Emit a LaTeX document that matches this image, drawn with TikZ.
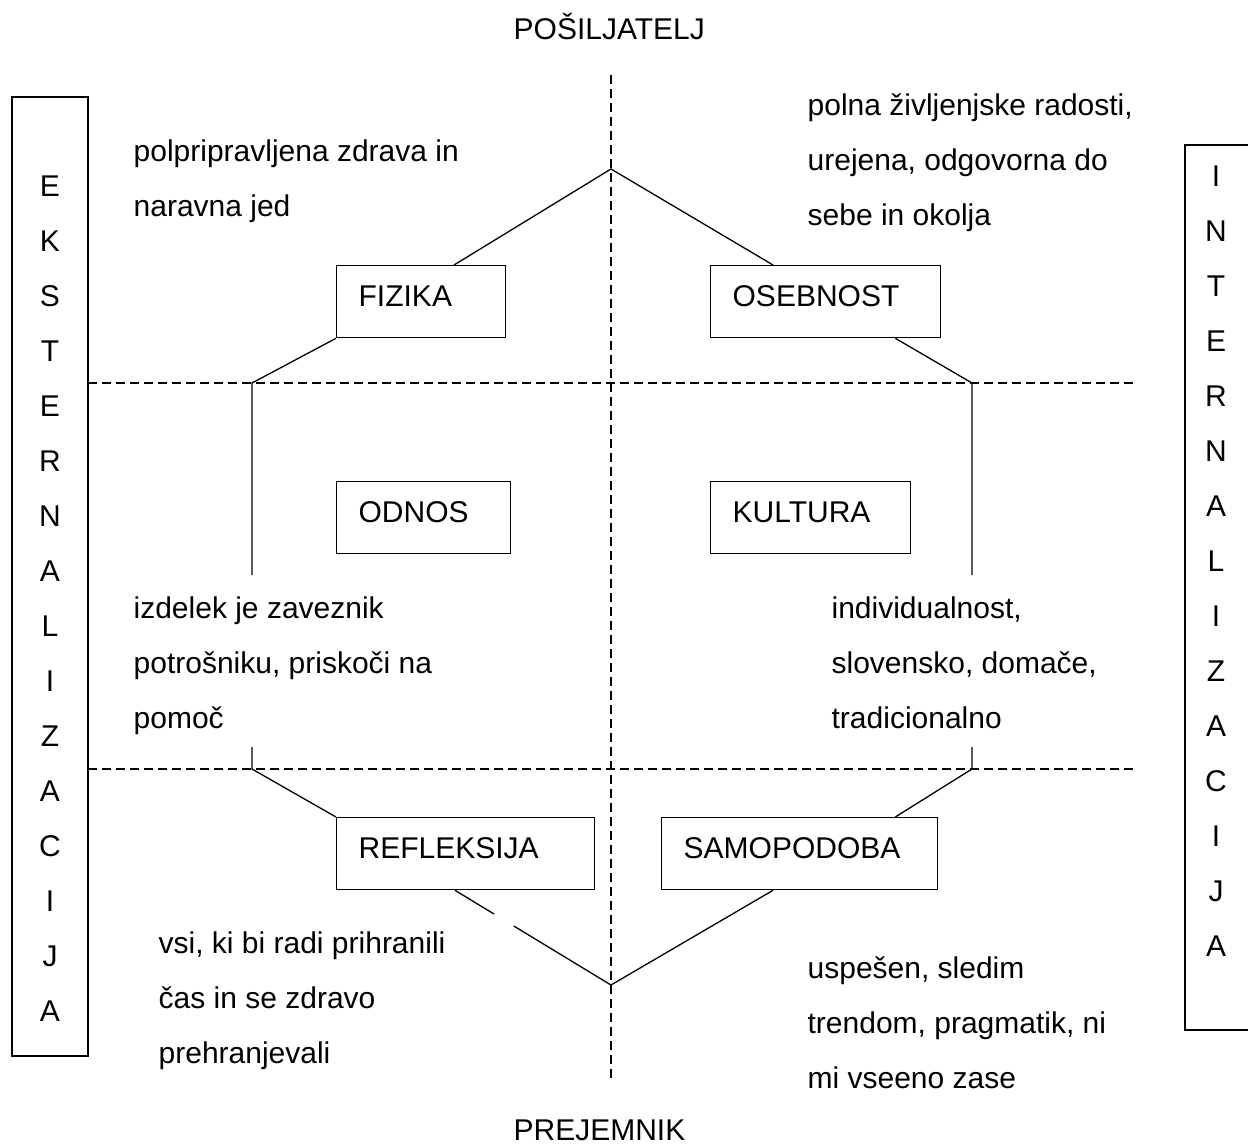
\documentclass[tikz,border=0pt]{standalone}
\usepackage{fontspec}
\setmainfont{Liberation Sans}
\usetikzlibrary{calc}

\begin{document}
\begin{tikzpicture}[x=0.5pt, y=-0.5pt,
  font=\fontsize{15pt}{27.5pt}\selectfont, line width=0.65pt,
  cbox/.style={draw, anchor=north west, minimum height=36pt, inner xsep=11pt, inner ysep=0pt, align=left, text width=#1, text height=10.75pt, text depth=5.75pt},
  txt/.style={anchor=north west, inner sep=0pt, align=left},
  guide/.style={dash pattern=on 4.5pt off 2.5pt},
  vlet/.style={anchor=base, inner sep=0pt}]
  \useasboundingbox (0,0) rectangle (1248,1146);
  % axes
  \coordinate (vtop) at (611,75);
  \coordinate (vbot) at (611,1083);
  \draw[guide] (vtop) -- (vbot);
  \draw[guide] (88,383) -- (1135,383);
  \draw[guide] (88,769) -- (1135,769);
  % side frames
  \draw (12,97) rectangle (88,1056);
  \draw (1185,145) rectangle (1262,1030);
  \foreach \c [count=\i from 0] in {E,K,S,T,E,R,N,A,L,I,Z,A,C,I,J,A}
    \node[vlet] (ext\i) at (50,196+55*\i) {\c};
  \foreach \c [count=\i from 0] in {I,N,T,E,R,N,A,L,I,Z,A,C,I,J,A}
    \node[vlet] (int\i) at (1216,186+55*\i) {\c};
  \node[anchor=base west, inner sep=0pt] (sender) at (513,39) {POŠILJATELJ};
  \node[anchor=base west, inner sep=0pt] (receiver) at (513,1140) {PREJEMNIK};
  % boxes
  \node[cbox=62.5pt] (fizika) at (336,265) {FIZIKA};
  \node[cbox=93pt] (osebnost) at (710,265) {OSEBNOST};
  \node[cbox=65pt] (odnos) at (336,481) {ODNOS};
  \node[cbox=78pt] (kultura) at (710,481) {KULTURA};
  \node[cbox=107pt] (refleksija) at (336,817) {REFLEKSIJA};
  \node[cbox=116pt] (samopodoba) at (661,817) {SAMOPODOBA};
  % descriptions
  \node[txt] (fizdesc) at (133,139.5) {polpripravljena zdrava in\\naravna jed};
  \node[txt] (osdesc) at (807,93.5) {polna življenjske radosti,\\urejena, odgovorna do\\sebe in okolja};
  \node[txt] (oddesc) at (133,596.5) {izdelek je zaveznik\\potrošniku, priskoči na\\pomoč};
  \node[txt] (kudesc) at (831,596.5) {individualnost,\\slovensko, domače,\\tradicionalno};
  \node[txt] (redesc) at (158,931.5) {vsi, ki bi radi prihranili\\čas in se zdravo\\prehranjevali};
  \node[txt] (sadesc) at (807,955.5) {uspešen, sledim\\trendom, pragmatik, ni\\mi vseeno zase};
  % outline
  \coordinate (top) at (611,169);
  \coordinate (bot) at (611,985);
  \coordinate (lu) at (252,383);
  \coordinate (ll) at (252,769);
  \coordinate (ru) at (972,383);
  \coordinate (rl) at (972,769);
  \coordinate (rs) at ($(refleksija.south west)+(119,0)$);
  \draw ($(fizika.north west)+(118,0)$) -- (top) -- ($(osebnost.north west)+(63,0)$);
  \draw (fizika.south west) -- (lu) -- ($(lu)+(0,192)$);
  \draw ($(ll)+(0,-22)$) -- (ll) -- (refleksija.north west);
  \draw ($(osebnost.south east)+(-46,0)$) -- (ru) -- ($(ru)+(0,192)$);
  \draw ($(rl)+(0,-22)$) -- (rl) -- ($(samopodoba.north east)+(-43,0)$);
  \draw (rs) -- ($(rs)!0.25!(bot)$);
  \draw ($(rs)!0.377!(bot)$) -- (bot) -- ($(samopodoba.south west)+(112,0)$);
\end{tikzpicture}
\end{document}
